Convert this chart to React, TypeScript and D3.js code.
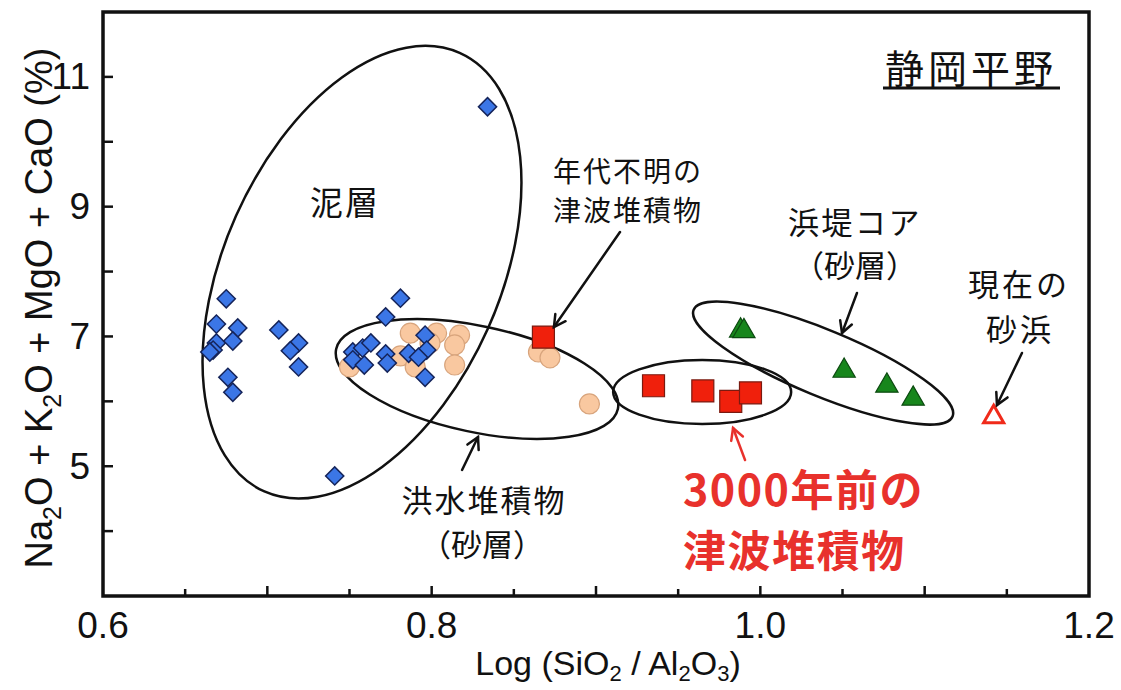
import React from 'react';
import * as d3 from 'd3';

// ---------- axis setup ----------
const xDomain: [number, number] = [0.6, 1.2];
const yDomain: [number, number] = [3, 12];
const xTickLabels = [0.6, 0.8, 1.0, 1.2];
const xMajorTicks = [0.7, 0.8, 0.9, 1.0, 1.1];
const xMinorTicks = [0.65, 0.75, 0.85, 0.95, 1.05, 1.15];
const yTickLabels = [5, 7, 9, 11];
const yMinorTicks = [4, 6, 8, 10];

// ---------- data ----------
// 泥層 (blue diamonds)
const mudLayer: [number, number][] = [
  [0.675, 7.58], [0.669, 7.19], [0.682, 7.13], [0.669, 6.9], [0.679, 6.93],
  [0.667, 6.79], [0.665, 6.76], [0.676, 6.37], [0.679, 6.14], [0.707, 7.1],
  [0.719, 6.9], [0.714, 6.78], [0.719, 6.53], [0.741, 4.85], [0.752, 6.76],
  [0.758, 6.82], [0.763, 6.9], [0.752, 6.64], [0.759, 6.56], [0.772, 7.3],
  [0.781, 7.59], [0.772, 6.73], [0.773, 6.59], [0.786, 6.74], [0.796, 7.02],
  [0.797, 6.79], [0.792, 6.68], [0.796, 6.37], [0.834, 10.54],
];
// 洪水堆積物 (peach circles)
const floodDeposit: [number, number][] = [
  [0.787, 7.05], [0.803, 7.05], [0.817, 7.02], [0.814, 6.87], [0.799, 6.9],
  [0.781, 6.7], [0.79, 6.53], [0.814, 6.56], [0.75, 6.53], [0.865, 6.76],
  [0.872, 6.67], [0.896, 5.96],
];
// 年代不明の津波堆積物
const unknownTsunami: [number, number][] = [[0.868, 6.99]];
// 3000年前の津波堆積物
const tsunami3000: [number, number][] = [
  [0.935, 6.24], [0.965, 6.16], [0.982, 6.0], [0.994, 6.13],
];
// 浜堤コア
const beachRidge: [number, number][] = [
  [0.988, 7.09], [0.99, 7.08], [1.051, 6.47], [1.077, 6.24], [1.093, 6.04],
];
// 現在の砂浜
const modernBeach: [number, number][] = [[1.142, 5.76]];

// enclosing ellipses: data centre + pixel semi-axes + rotation
const enclosures = [
  { cx: 0.7576, cy: 7.99, rx: 240, ry: 138, rot: -66 },
  { cx: 0.8276, cy: 6.344, rx: 144, ry: 53, rot: 12 },
  { cx: 0.9646, cy: 6.143, rx: 89, ry: 32, rot: 0 },
  { cx: 1.0382, cy: 6.59, rx: 140, ry: 33, rot: 22.4 },
];

// arrows: tail -> tip (data coords)
const arrows = [
  { x1: 0.9146, y1: 8.61, x2: 0.8744, y2: 7.145, color: '#111' },
  { x1: 1.0588, y1: 7.67, x2: 1.0497, y2: 7.053, color: '#111' },
  { x1: 1.1592, y1: 6.745, x2: 1.144, y2: 5.943, color: '#111' },
  { x1: 0.8185, y1: 4.942, x2: 0.8282, y2: 5.45, color: '#111' },
  { x1: 0.9907, y1: 5.096, x2: 0.9834, y2: 5.589, color: '#e8312c' },
];

// labels (data coords)
const labels = [
  { x: 0.7473, y: 9.09, text: '泥層', size: 33, ls: 2, anchor: 'middle' },
  { x: 0.9195, y: 9.565, text: '年代不明の', size: 28, ls: 2, anchor: 'middle' },
  { x: 0.9195, y: 8.964, text: '津波堆積物', size: 28, ls: 2, anchor: 'middle' },
  { x: 1.0576, y: 8.78, text: '浜堤コア', size: 31, ls: 2.5, anchor: 'middle' },
  { x: 1.0576, y: 8.13, text: '（砂層）', size: 31, ls: 0, anchor: 'middle' },
  { x: 1.1574, y: 7.824, text: '現在の', size: 31, ls: 3, anchor: 'middle' },
  { x: 1.158, y: 7.145, text: '砂浜', size: 31, ls: 3, anchor: 'middle' },
  { x: 0.8318, y: 4.495, text: '洪水堆積物', size: 31, ls: 2, anchor: 'middle' },
  { x: 0.8306, y: 3.832, text: '（砂層）', size: 31, ls: 0, anchor: 'middle' },
];
const redLabels = [
  { x: 0.9529, y: 4.68, text: '3000年前の' },
  { x: 0.9529, y: 3.74, text: '津波堆積物' },
];
const titleLabel = { x: 1.1282, y: 11.168, text: '静岡平野' };

const CJK = '"Noto Sans CJK JP", "Noto Sans", sans-serif';
const LATIN = '"Liberation Sans", Arial, Helvetica, sans-serif';

export default function App() {
  const x = d3.scaleLinear().domain(xDomain).range([103, 1089]);
  const y = d3.scaleLinear().domain(yDomain).range([596, 12]);
  const [x0, x1] = x.range();
  const [y0, y1] = y.range();

  const diamond = d3.symbol(d3.symbolSquare, 165)()!;
  const square = d3.symbol(d3.symbolSquare, 484)()!;
  const triangle = d3.symbol(d3.symbolTriangle, 215)()!;
  const hollowTri = d3.symbol(d3.symbolTriangle, 175)()!;

  const arrowHead = (a: any) => {
    const X1 = x(a.x1), Y1 = y(a.y1), X2 = x(a.x2), Y2 = y(a.y2);
    const ang = Math.atan2(Y2 - Y1, X2 - X1);
    const L = 13, sp = 0.5;
    const p1 = [X2 - L * Math.cos(ang - sp), Y2 - L * Math.sin(ang - sp)];
    const p2 = [X2 - L * Math.cos(ang + sp), Y2 - L * Math.sin(ang + sp)];
    return `M${p1[0]},${p1[1]}L${X2},${Y2}L${p2[0]},${p2[1]}`;
  };

  return (
    <svg width={1121} height={690} style={{ position: 'absolute', left: 0, top: 0, background: '#fff' }}>
      <rect width={1121} height={690} fill="#fff" />
      {/* ellipses */}
      {enclosures.map((e, i) => (
        <ellipse key={i} cx={x(e.cx)} cy={y(e.cy)} rx={e.rx} ry={e.ry}
          transform={`rotate(${e.rot} ${x(e.cx)} ${y(e.cy)})`}
          fill="none" stroke="#111" strokeWidth={2.5} />
      ))}
      {/* flood circles */}
      {floodDeposit.map((d, i) => (
        <circle key={i} cx={x(d[0])} cy={y(d[1])} r={10} fill="#f9c8a0" stroke="#d8a47c" strokeWidth={1.2} />
      ))}
      {/* mud diamonds */}
      {mudLayer.map((d, i) => (
        <path key={i} d={diamond} transform={`translate(${x(d[0])},${y(d[1])}) rotate(45)`}
          fill="#3b76e6" stroke="#15245a" strokeWidth={1.5} />
      ))}
      {/* red squares */}
      {[...unknownTsunami, ...tsunami3000].map((d, i) => (
        <path key={i} d={square} transform={`translate(${x(d[0])},${y(d[1])})`}
          fill="#f0200c" stroke="#7a1a10" strokeWidth={1.2} />
      ))}
      {/* green triangles */}
      {beachRidge.map((d, i) => (
        <path key={i} d={triangle} transform={`translate(${x(d[0])},${y(d[1])})`}
          fill="#17861c" stroke="#0c4a10" strokeWidth={1.2} />
      ))}
      {/* modern beach hollow triangle */}
      {modernBeach.map((d, i) => (
        <path key={i} d={hollowTri} transform={`translate(${x(d[0])},${y(d[1])})`}
          fill="#fff" stroke="#f02a1a" strokeWidth={3} />
      ))}
      {/* arrows */}
      {arrows.map((a, i) => (
        <g key={i} stroke={a.color} strokeWidth={2.5} fill="none" strokeLinecap="round">
          <line x1={x(a.x1)} y1={y(a.y1)} x2={x(a.x2)} y2={y(a.y2)} />
          <path d={arrowHead(a)} strokeLinejoin="miter" />
        </g>
      ))}
      {/* labels */}
      {labels.map((l, i) => (
        <text key={i} x={x(l.x)} y={y(l.y)} textAnchor={l.anchor as any} dominantBaseline="central"
          fontFamily={CJK} fontSize={l.size} fill="#111" style={{ letterSpacing: `${l.ls}px` }}>{l.text}</text>
      ))}
      {redLabels.map((l, i) => (
        <text key={i} x={x(l.x)} y={y(l.y)} textAnchor="start" dominantBaseline="central"
          fontFamily={CJK} fontWeight="bold" fontSize={43} fill="#e8312c" style={{ letterSpacing: '1.5px' }}>{l.text}</text>
      ))}
      <text x={x(titleLabel.x)} y={y(titleLabel.y)} textAnchor="middle" dominantBaseline="central"
        fontFamily={CJK} fontSize={39} fill="#111" style={{ letterSpacing: '4px' }}>{titleLabel.text}</text>
      <line x1={883} x2={1060} y1={y(titleLabel.y) + 22} y2={y(titleLabel.y) + 22} stroke="#111" strokeWidth={3} />

      {/* frame */}
      <rect x={x0} y={y1} width={x1 - x0} height={y0 - y1} fill="none" stroke="#111" strokeWidth={3.5} />
      {/* x ticks */}
      {xMajorTicks.map((t) => (
        <line key={'xM' + t} x1={x(t)} x2={x(t)} y1={y0} y2={y0 - 10} stroke="#111" strokeWidth={2.5} />
      ))}
      {xMinorTicks.map((t) => (
        <line key={'xm' + t} x1={x(t)} x2={x(t)} y1={y0} y2={y0 - 7} stroke="#111" strokeWidth={2.5} />
      ))}
      {xTickLabels.map((t) => (
        <text key={'xl' + t} x={x(t)} y={638} textAnchor="middle" fontFamily={LATIN} fontSize={37} fill="#111">
          {d3.format('.1f')(t)}
        </text>
      ))}
      {/* y ticks */}
      {[...yTickLabels, ...yMinorTicks].map((t) => (
        <line key={'yt' + t} x1={x0} x2={x0 + 10} y1={y(t)} y2={y(t)} stroke="#111" strokeWidth={2.5} />
      ))}
      {yTickLabels.map((t) => (
        <text key={'yl' + t} x={90} y={y(t)} textAnchor="end" dominantBaseline="central" fontFamily={LATIN} fontSize={37} fill="#111">
          {t}
        </text>
      ))}
      {/* axis titles */}
      <text x={(x0 + x1) / 2 + 12} y={675} textAnchor="middle" fontFamily={LATIN} fontSize={34} fill="#111">
        Log (SiO<tspan dy={6} fontSize={22}>2</tspan><tspan dy={-6}> / Al</tspan><tspan dy={6} fontSize={22}>2</tspan><tspan dy={-6}>O</tspan><tspan dy={6} fontSize={22}>3</tspan><tspan dy={-6}>)</tspan>
      </text>
      <text transform={`translate(52, 308) rotate(-90)`} textAnchor="middle" fontFamily={LATIN} fontSize={38} fill="#111">
        Na<tspan dy={9} fontSize={25}>2</tspan><tspan dy={-9}>O + K</tspan><tspan dy={9} fontSize={25}>2</tspan><tspan dy={-9}>O + MgO + CaO (%)</tspan>
      </text>
    </svg>
  );
}
